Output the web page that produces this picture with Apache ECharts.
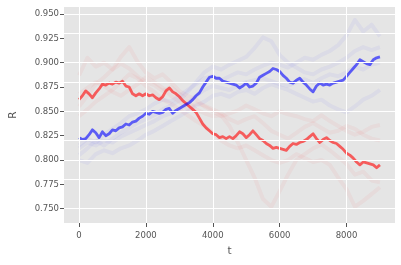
<!DOCTYPE html>
<html><head><meta charset="utf-8">
<script src="https://cdn.jsdelivr.net/npm/echarts@6/dist/echarts.min.js"></script>
<style>html,body{margin:0;padding:0;background:#fff}#c{width:401px;height:265px}</style>
</head><body><div id="c"></div>
<script>
// sample spacing (t units) of the stored series
const boldStep = 100;
const faintStep = 250;
const xTicks = [0, 2000, 4000, 6000, 8000];
const yTicks = [0.750, 0.775, 0.800, 0.825, 0.850, 0.875, 0.900, 0.925, 0.950];

const redMain = [0.862,0.866,0.871,0.868,0.864,0.869,0.873,0.878,0.877,0.879,0.878,0.880,0.879,0.881,0.876,0.875,0.868,0.866,0.868,0.866,
0.868,0.866,0.867,0.864,0.862,0.865,0.871,0.874,0.870,0.868,0.865,0.861,0.858,0.855,0.852,0.849,0.843,0.837,0.833,0.830,
0.827,0.826,0.823,0.824,0.822,0.824,0.822,0.825,0.829,0.827,0.823,0.826,0.830,0.826,0.822,0.820,0.817,0.815,0.812,0.813,
0.812,0.811,0.810,0.814,0.817,0.816,0.818,0.819,0.821,0.824,0.827,0.822,0.818,0.821,0.823,0.820,0.818,0.817,0.814,0.811,
0.807,0.805,0.802,0.798,0.795,0.798,0.797,0.796,0.795,0.792,0.795];
const blueMain = [0.823,0.821,0.822,0.826,0.831,0.828,0.823,0.829,0.825,0.827,0.831,0.830,0.833,0.834,0.837,0.836,0.839,0.840,0.843,0.845,
0.848,0.847,0.850,0.849,0.848,0.849,0.852,0.853,0.848,0.851,0.853,0.855,0.857,0.859,0.862,0.866,0.869,0.875,0.880,0.885,
0.886,0.884,0.884,0.881,0.880,0.879,0.878,0.877,0.874,0.876,0.879,0.875,0.876,0.879,0.885,0.887,0.889,0.891,0.894,0.893,
0.891,0.887,0.884,0.880,0.879,0.882,0.884,0.880,0.877,0.873,0.870,0.876,0.879,0.877,0.878,0.877,0.879,0.880,0.881,0.882,
0.886,0.890,0.894,0.898,0.903,0.901,0.899,0.898,0.903,0.905,0.906];

const redFaint1 = [0.887,0.905,0.896,0.900,0.893,0.906,0.916,0.901,0.890,0.884,0.888,0.880,0.871,0.866,0.862,0.855,0.850,0.845,0.848,0.851,0.856,0.852,0.848,0.845,0.850,0.847,0.845,0.842,0.840,0.846,0.840,0.835,0.830,0.826,0.829,0.834,0.836];
const redFaint2 = [0.855,0.866,0.878,0.885,0.893,0.899,0.894,0.886,0.880,0.877,0.871,0.875,0.868,0.861,0.852,0.848,0.845,0.846,0.835,0.818,0.800,0.782,0.760,0.752,0.768,0.785,0.800,0.806,0.812,0.816,0.810,0.803,0.796,0.785,0.788,0.779,0.777];
const redFaint3 = [0.845,0.852,0.860,0.866,0.872,0.880,0.888,0.884,0.876,0.870,0.862,0.858,0.852,0.846,0.840,0.835,0.828,0.820,0.815,0.812,0.815,0.810,0.805,0.800,0.797,0.800,0.806,0.802,0.798,0.800,0.795,0.782,0.770,0.752,0.758,0.765,0.772];
const redFaint4 = [0.868,0.874,0.880,0.876,0.870,0.866,0.872,0.878,0.885,0.880,0.874,0.866,0.860,0.852,0.858,0.856,0.852,0.848,0.842,0.838,0.842,0.845,0.838,0.830,0.826,0.822,0.828,0.834,0.838,0.833,0.828,0.830,0.835,0.832,0.826,0.822,0.820];
const blueFaint1 = [0.815,0.822,0.818,0.826,0.832,0.838,0.845,0.848,0.852,0.858,0.862,0.860,0.866,0.872,0.878,0.884,0.886,0.882,0.886,0.890,0.888,0.893,0.897,0.900,0.898,0.895,0.900,0.905,0.903,0.908,0.912,0.918,0.928,0.944,0.932,0.939,0.927];
const blueFaint2 = [0.805,0.812,0.820,0.815,0.822,0.828,0.833,0.838,0.842,0.846,0.852,0.856,0.861,0.870,0.880,0.890,0.896,0.893,0.898,0.902,0.906,0.915,0.926,0.922,0.908,0.900,0.895,0.890,0.888,0.893,0.896,0.900,0.905,0.912,0.916,0.913,0.916];
const blueFaint3 = [0.800,0.797,0.806,0.810,0.807,0.812,0.815,0.820,0.826,0.830,0.835,0.840,0.845,0.850,0.856,0.860,0.866,0.868,0.865,0.870,0.872,0.868,0.874,0.878,0.875,0.872,0.868,0.864,0.860,0.862,0.856,0.852,0.849,0.855,0.862,0.866,0.872];
const blueFaint4 = [0.812,0.818,0.815,0.820,0.818,0.824,0.828,0.832,0.836,0.840,0.845,0.848,0.852,0.858,0.866,0.872,0.876,0.874,0.872,0.876,0.880,0.882,0.884,0.881,0.878,0.876,0.880,0.883,0.879,0.884,0.888,0.886,0.890,0.896,0.893,0.898,0.900];

function pts(arr, step){ return arr.map((v,i)=>[i*step, v]); }
function line(arr, step, color, width){
  return {type:'line', data:pts(arr, step), showSymbol:false, symbol:'none', silent:true, z:3,
    lineStyle:{color:color, width:width, join:'round'}, animation:false};
}
const faintR = 'rgba(255,0,0,0.045)', faintB = 'rgba(0,0,255,0.045)';
const chart = echarts.init(document.getElementById('c'), null, {renderer:'canvas'});
const axisFont = {fontFamily:'DejaVu Sans', fontSize:8.5, color:'#555555'};
const gridLines = xTicks.map(v=>({xAxis:v})).concat(yTicks.map(v=>({yAxis:v})));
chart.setOption({
  animation:false,
  backgroundColor:'#ffffff',
  grid:{left:61, right:6, top:7, bottom:42, show:true, backgroundColor:'#E5E5E5', borderWidth:0},
  xAxis:{type:'value', min:-450, max:9450, name:'t', nameLocation:'middle', nameGap:23,
    nameTextStyle:{fontFamily:'DejaVu Sans', fontSize:10.5, color:'#555555'},
    axisLine:{show:false, onZero:false},
    axisTick:{show:true, length:4, lineStyle:{color:'#555555', width:1}, customValues:xTicks},
    axisLabel:Object.assign({margin:8, customValues:xTicks, formatter:v=>String(v)}, axisFont),
    splitLine:{show:false}},
  yAxis:{type:'value', min:0.7353, max:0.9572, name:'R', nameLocation:'middle', nameGap:45,
    nameTextStyle:{fontFamily:'DejaVu Sans', fontSize:10.5, color:'#555555'},
    axisLine:{show:false, onZero:false},
    axisTick:{show:true, length:4, lineStyle:{color:'#555555', width:1}, customValues:yTicks},
    axisLabel:Object.assign({margin:5, customValues:yTicks, formatter:v=>v.toFixed(3)}, axisFont),
    splitLine:{show:false}},
  series:[
    {type:'line', data:[], z:1, silent:true,
     markLine:{silent:true, symbol:'none', animation:false, label:{show:false},
       lineStyle:{color:'#ffffff', width:1, type:'solid'}, data:gridLines}},
    line(redFaint1, faintStep, faintR, 4),
    line(redFaint2, faintStep, faintR, 4),
    line(redFaint3, faintStep, faintR, 4),
    line(redFaint4, faintStep, faintR, 4),
    line(blueFaint1, faintStep, faintB, 4),
    line(blueFaint2, faintStep, faintB, 4),
    line(blueFaint3, faintStep, faintB, 4),
    line(blueFaint4, faintStep, faintB, 4),
    line(redMain, boldStep, 'rgba(255,0,0,0.6)', 2.8),
    line(blueMain, boldStep, 'rgba(0,0,255,0.6)', 2.8)
  ]
});
</script></body></html>
